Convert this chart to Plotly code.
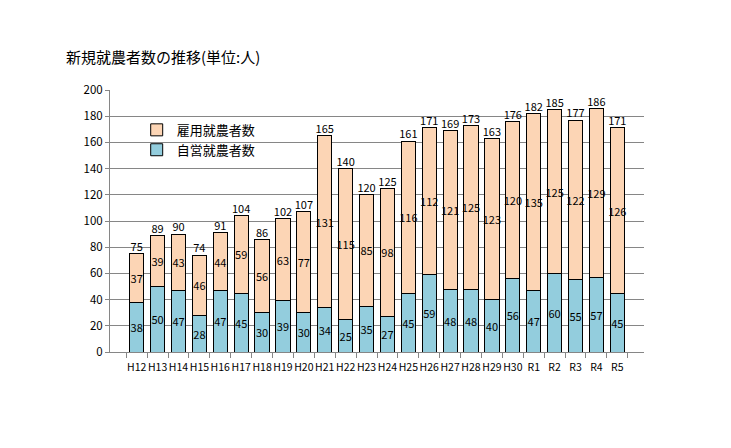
import plotly.graph_objects as go

categories = ["H12","H13","H14","H15","H16","H17","H18","H19","H20","H21","H22","H23","H24",
              "H25","H26","H27","H28","H29","H30","R1","R2","R3","R4","R5"]
self_employed = [38,50,47,28,47,45,30,39,30,34,25,35,27,45,59,48,48,40,56,47,60,55,57,45]
employed = [37,39,43,46,44,59,56,63,77,131,115,85,98,116,112,121,125,123,120,135,125,122,129,126]
totals = [75,89,90,74,91,104,86,102,107,165,140,120,125,161,171,169,173,163,176,182,185,177,186,171]

font_family = "Noto Sans CJK JP"
txt_font = dict(family=font_family, size=11, color="#000000")

fig = go.Figure()
fig.add_trace(go.Bar(
    x=categories, y=self_employed, name="自営就農者数", legendgroup="b",
    marker=dict(color="#93CDDD", line=dict(color="#000000", width=1)),
    text=self_employed, textposition="inside", insidetextanchor="middle",
    textangle=0, constraintext="none", textfont=txt_font,
))
fig.add_trace(go.Bar(
    x=categories, y=employed, name="雇用就農者数", legendgroup="a",
    marker=dict(color="#FCD5B5", line=dict(color="#000000", width=1)),
    text=employed, textposition="inside", insidetextanchor="middle",
    textangle=0, constraintext="none", textfont=txt_font,
))
fig.add_trace(go.Scatter(
    x=categories, y=totals, mode="text", text=totals,
    textposition="top center", textfont=txt_font, showlegend=False,
    hoverinfo="skip",
))

fig.update_layout(
    barmode="stack", bargap=0.32,
    width=731, height=448,
    margin=dict(l=102, r=95, t=82, b=104),
    plot_bgcolor="#FFFFFF", paper_bgcolor="#FFFFFF",
    font=dict(family=font_family, size=11, color="#000000"),
    title=dict(text="新規就農者数の推移(単位:人)", x=58/731, xanchor="left",
               y=1-50/448, yanchor="middle",
               font=dict(family=font_family, size=15, color="#000000")),
    legend=dict(x=0.05, y=0.905, xanchor="left", yanchor="top",
                traceorder="reversed", bgcolor="rgba(0,0,0,0)",
                font=dict(family=font_family, size=13), itemwidth=30,
                tracegroupgap=8),
    showlegend=True,
)
fig.update_xaxes(
    type="category", showline=True, linecolor="#868686", linewidth=1,
    ticks="outside", tickson="boundaries", ticklen=5, tickcolor="#868686",
    ticklabelstandoff=5,
    tickangle=0, tickfont=dict(family=font_family, size=10.5), showgrid=False,
)
fig.update_yaxes(
    range=[0, 200], dtick=20, showgrid=True, gridcolor="#868686", gridwidth=1,
    showline=True, linecolor="#868686", linewidth=1,
    ticks="outside", ticklen=4, tickcolor="#868686",
    tickfont=dict(family=font_family, size=11.5), zeroline=False,
)

fig.write_html("out.html")
